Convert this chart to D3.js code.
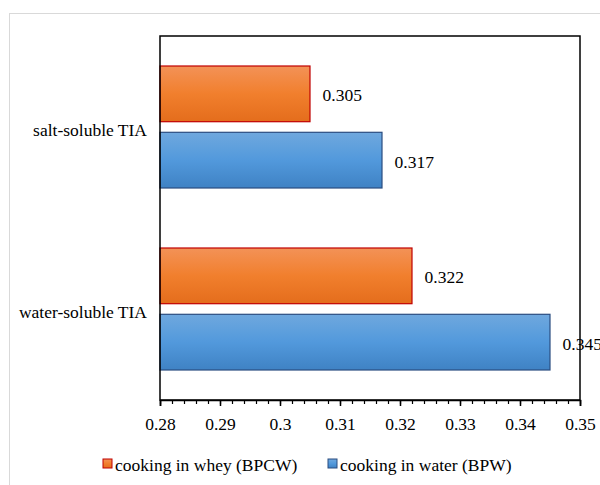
<!DOCTYPE html>
<html>
<head>
<meta charset="utf-8">
<script src="https://cdn.jsdelivr.net/npm/d3@7"></script>
<style>
  body { margin: 0; background: #fff; }
  svg text { font-family: 'Liberation Serif', 'Times New Roman', Times, 'DejaVu Serif', serif !important; fill: #000; }
</style>
</head>
<body>
<div id="chart"></div>
<script>
var categories = ["salt-soluble TIA", "water-soluble TIA"];
var seriesNames = ["cooking in whey (BPCW)", "cooking in water (BPW)"];
var wheyValues = [0.305, 0.322];
var waterValues = [0.317, 0.345];
var xTicks = [0.28, 0.29, 0.3, 0.31, 0.32, 0.33, 0.34, 0.35];

var width = 600, height = 485;
var margin = {top: 36, right: 20, bottom: 85, left: 160};
var serif = "'Liberation Serif', 'Times New Roman', Times, serif";
var fs = "17.5px";

var svg = d3.select("#chart").append("svg")
    .attr("width", width)
    .attr("height", height);

// gradients
var defs = svg.append("defs");
function grad(id, top, mid, bottom) {
    var g = defs.append("linearGradient").attr("id", id)
        .attr("x1", 0).attr("y1", 0).attr("x2", 0).attr("y2", 1);
    g.append("stop").attr("offset", "0%").attr("stop-color", top);
    g.append("stop").attr("offset", "50%").attr("stop-color", mid);
    g.append("stop").attr("offset", "100%").attr("stop-color", bottom);
}
grad("gOrange", "#f39257", "#f17f2d", "#e46d1c");
grad("gBlue", "#6fa8de", "#5299dc", "#3f82c4");

// outer frame
svg.append("rect")
    .attr("x", 9.5).attr("y", 13.5)
    .attr("width", 620).attr("height", 500)
    .attr("fill", "none").attr("stroke", "#d9d9d9");

var plotW = width - margin.left - margin.right,
    plotH = height - margin.top - margin.bottom;

var g = svg.append("g").attr("transform", "translate(" + margin.left + "," + margin.top + ")");

var x = d3.scaleLinear().domain([0.28, 0.35]).range([0, plotW]);
var y0 = d3.scaleBand().domain(categories).range([0, plotH]).paddingInner(0).paddingOuter(0);
var y1 = d3.scaleBand().domain(seriesNames).range([30, y0.bandwidth() - 30]).paddingInner(0.16);

var series = [
    {name: seriesNames[0], values: wheyValues, fill: "url(#gOrange)", stroke: "#c00000"},
    {name: seriesNames[1], values: waterValues, fill: "url(#gBlue)", stroke: "#2a4d80"}
];

series.forEach(function(s) {
    var grp = g.append("g");
    grp.selectAll("rect").data(s.values).enter().append("rect")
        .attr("x", x(0.28))
        .attr("y", function(d, i) { return y0(categories[i]) + y1(s.name); })
        .attr("width", function(d) { return x(d) - x(0.28); })
        .attr("height", y1.bandwidth())
        .attr("fill", s.fill)
        .attr("stroke", s.stroke)
        .attr("stroke-width", 1.2);
    grp.selectAll("text").data(s.values).enter().append("text")
        .attr("x", function(d) { return x(d) + 12.5; })
        .attr("y", function(d, i) { return y0(categories[i]) + y1(s.name) + y1.bandwidth() / 2; })
        .attr("dy", "0.42em")
        .style("font-family", serif)
        .style("font-size", fs)
        .text(function(d) { return d3.format(".3f")(d); });
});

// plot border
g.append("rect")
    .attr("x", 0).attr("y", 0)
    .attr("width", plotW).attr("height", plotH)
    .attr("fill", "none").attr("stroke", "#000").attr("stroke-width", 1.5);

// x axis with minor ticks
var minor = d3.range(0, 36).map(function(i) { return 0.28 + i * 0.002; });
g.append("g").attr("transform", "translate(0," + plotH + ")")
    .call(d3.axisBottom(x).tickValues(minor).tickSize(4).tickFormat(""))
    .call(function(a) { a.select(".domain").remove(); a.selectAll("line").attr("stroke-width", 1.2); });

var xAxis = g.append("g").attr("transform", "translate(0," + plotH + ")")
    .call(d3.axisBottom(x).tickValues(xTicks).tickSize(6).tickPadding(12)
        .tickFormat(function(d) { return d3.format("")(+d.toFixed(2)); }));
xAxis.attr("font-family", null).attr("font-size", null);
xAxis.select(".domain").attr("stroke-width", 1.5);
xAxis.selectAll("line").attr("stroke-width", 1.5);
xAxis.selectAll("text").style("font-size", fs).style("font-family", serif);

// category labels
g.selectAll(".cat").data(categories).enter().append("text")
    .attr("class", "cat")
    .attr("x", -13)
    .attr("y", function(d) { return y0(d) + y0.bandwidth() / 2; })
    .attr("dy", "0.52em")
    .attr("text-anchor", "end")
    .style("font-family", serif)
    .style("font-size", fs)
    .text(function(d) { return d; });

// legend
var legendX = [103, 328];
var legend = svg.append("g");
series.forEach(function(s, i) {
    legend.append("rect")
        .attr("x", legendX[i]).attr("y", 459)
        .attr("width", 9).attr("height", 9)
        .attr("fill", s.fill).attr("stroke", s.stroke).attr("stroke-width", 1);
    legend.append("text")
        .attr("x", legendX[i] + 12).attr("y", 464)
        .attr("dy", "0.4em")
        .style("font-family", serif)
        .style("font-size", fs)
        .text(s.name);
});
</script>
</body>
</html>
